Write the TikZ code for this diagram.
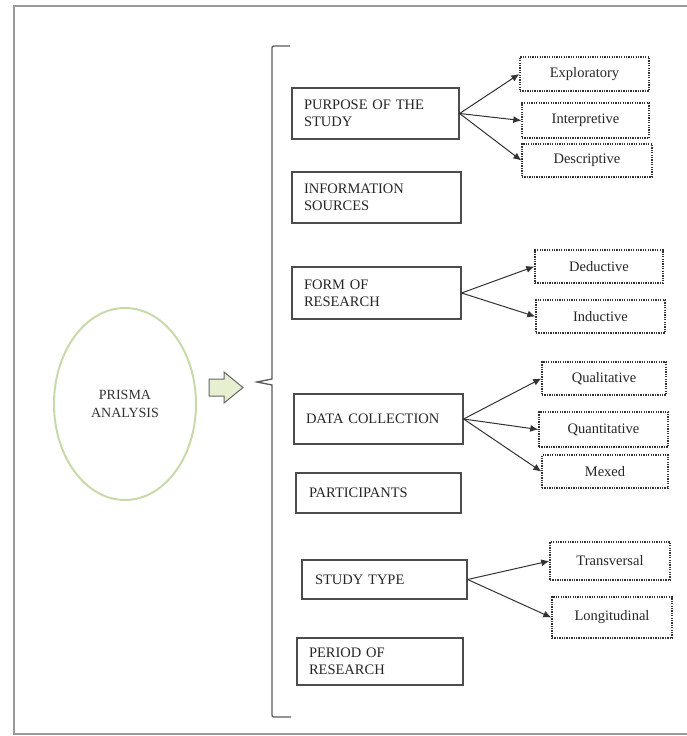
\documentclass[tikz,border=0pt]{standalone}
\usepackage{fontspec}
\setmainfont{Liberation Serif}
\usetikzlibrary{arrows.meta,shapes.geometric}
\definecolor{ellgreen}{HTML}{C8DAAA}
\definecolor{arrfill}{HTML}{E6EFCF}
\begin{document}
\begin{tikzpicture}[x=1pt,y=-1pt,
  mainbox/.style={draw=black!70, line width=1.2pt, rectangle, inner xsep=12pt, inner ysep=0pt,
    align=left, font=\fontsize{14.5}{17}\selectfont, text=black!85},
  dotbox/.style={draw=black!80, line width=1.4pt, dash pattern=on 1.3pt off 1.1pt, rectangle,
    inner sep=0pt, align=center, font=\fontsize{14.5}{17}\selectfont, text=black!85},
  conn/.style={-{Latex[length=8pt,width=7pt]}, line width=1pt, draw=black!80},
  bracestyle/.style={draw=black!65, line width=1.3pt},
  framestyle/.style={draw=black!40, line width=1.8pt}
]
\useasboundingbox (0,0) rectangle (687,736);
% frame
\draw[framestyle] (687,6) -- (14,6) -- (14,734) -- (687,734);

% ellipse
\node[draw=ellgreen, line width=2pt, ellipse, minimum width=142pt, minimum height=192pt, inner sep=0pt,
  align=center, font=\fontsize{14}{18}\selectfont, text=black!80] (prisma) at (125,404) {PRISMA\\ANALYSIS};

% block arrow
\draw[draw=black!60, fill=arrfill, line width=1pt] (209,379) -- (224,379) -- (224,372) -- (243,387.5)
  -- (224,403) -- (224,396) -- (209,396) -- cycle;

% brace
\draw[bracestyle] (290,46) -- (276,46) .. controls (272,46) .. (272,50) -- (272,379)
  -- (257,382) -- (272,385) -- (272,713) .. controls (272,717) .. (276,717) -- (291,717);

% main boxes
\node[mainbox, minimum width=167pt, text width=143pt, minimum height=51pt] (purpose) at (375.5,113.5) {PURPOSE OF THE\\STUDY};
\node[mainbox, minimum width=169pt, text width=145pt, minimum height=51pt] (info) at (376.5,197.5) {INFORMATION\\SOURCES};
\node[mainbox, minimum width=169pt, text width=145pt, minimum height=52pt] (form) at (376.5,293) {FORM OF\\RESEARCH};
\node[mainbox, minimum width=169pt, text width=145pt, minimum height=50pt] (data) at (378.5,419) {DATA COLLECTION};
\node[mainbox, minimum width=165pt, text width=139pt, minimum height=40pt, inner xsep=13pt] (part) at (378.5,493) {PARTICIPANTS};
\node[mainbox, minimum width=165pt, text width=139pt, minimum height=39pt, inner xsep=13pt] (study) at (384.5,579.5) {STUDY TYPE};
\node[mainbox, minimum width=166pt, text width=142pt, minimum height=47pt] (period) at (380,661.5) {PERIOD OF\\RESEARCH};

% dotted boxes
\node[dotbox, minimum width=129pt, minimum height=34pt] (explor) at (584.5,74) {Exploratory};
\node[dotbox, minimum width=127pt, minimum height=35pt] (interp) at (585.5,120.5) {Interpretive};
\node[dotbox, minimum width=130pt, minimum height=33pt] (descr) at (587,160.5) {Descriptive};
\node[dotbox, minimum width=128pt, minimum height=33pt] (deduct) at (599,266.5) {Deductive};
\node[dotbox, minimum width=129pt, minimum height=33pt] (induct) at (600.5,316.5) {Inductive};
\node[dotbox, minimum width=124pt, minimum height=33pt] (qual) at (604,378.5) {Qualitative};
\node[dotbox, minimum width=129pt, minimum height=35pt] (quant) at (603.5,429.5) {Quantitative};
\node[dotbox, minimum width=126pt, minimum height=33pt] (mexed) at (605,471.5) {Mexed};
\node[dotbox, minimum width=120pt, minimum height=38pt] (trans) at (610,561) {Transversal};
\node[dotbox, minimum width=120pt, minimum height=41pt] (longi) at (612,617.5) {Longitudinal};

% connectors
\draw[conn] (purpose.east) -- (explor.west);
\draw[conn] (purpose.east) -- (interp.west);
\draw[conn] (purpose.east) -- (descr.west);
\draw[conn] (form.east) -- (deduct.west);
\draw[conn] (form.east) -- (induct.west);
\draw[conn] (data.east) -- (qual.west);
\draw[conn] (data.east) -- (quant.west);
\draw[conn] (data.east) -- (mexed.west);
\draw[conn] (study.east) -- (trans.west);
\draw[conn] (study.east) -- (longi.west);
\end{tikzpicture}
\end{document}
